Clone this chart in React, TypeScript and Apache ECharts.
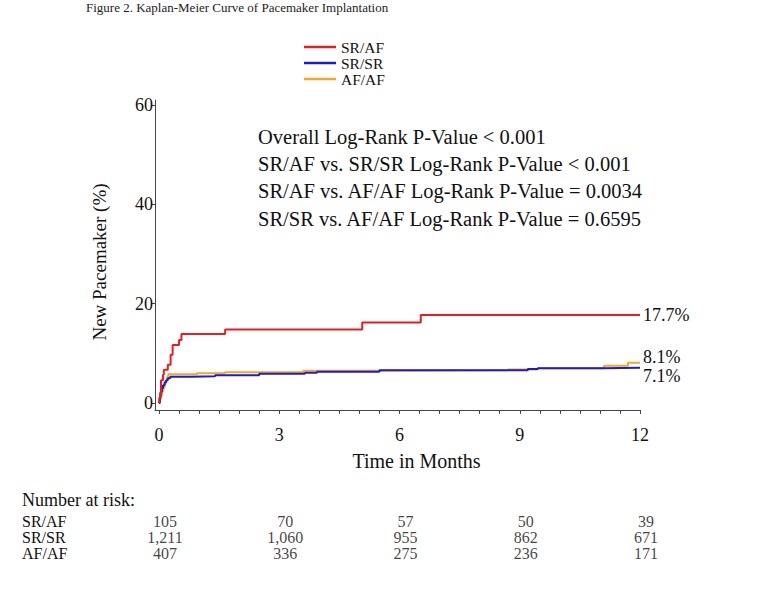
import React, { useEffect, useRef } from "react";
import * as echarts from "echarts";

const FONT = "'Liberation Serif', 'Times New Roman', serif";

const seriesNames = ["SR/AF", "SR/SR", "AF/AF"];
const seriesColors = ["#e61e24", "#1c1cc8", "#f5a623"];
const endLabels = ["17.7%", "7.1%", "8.1%"];

// Kaplan-Meier cumulative incidence (%), [month, value]
const srafCurve: [number, number][] = [
  [0, 0], [0.01, 1.0], [0.03, 2.0], [0.05, 4.6], [0.1, 5.7], [0.12, 6.7],
  [0.22, 7.7], [0.29, 9.7], [0.34, 11.7], [0.5, 12.7], [0.56, 13.9],
  [1.65, 14.8], [5.07, 16.2], [6.53, 17.7], [12, 17.7],
];
const srsrCurve: [number, number][] = [
  [0, 0], [0.02, 1.2], [0.04, 2.2], [0.07, 3.0], [0.1, 3.6], [0.14, 4.2],
  [0.18, 4.6], [0.22, 5.0], [0.28, 5.3], [0.8, 5.4], [1.4, 5.6], [2.5, 5.9],
  [3.64, 6.1], [3.94, 6.3], [5.5, 6.6], [9.2, 6.85], [9.45, 7.0], [11.1, 7.1],
  [12, 7.1],
];
const afafCurve: [number, number][] = [
  [0, 0], [0.02, 0.8], [0.05, 1.6], [0.08, 2.4], [0.11, 3.2], [0.14, 4.0],
  [0.17, 4.6], [0.2, 5.2], [0.23, 5.8], [0.95, 6.0], [1.65, 6.2], [3.6, 6.5],
  [4.76, 6.6], [8.7, 6.75], [9.45, 7.0], [11.1, 7.5], [11.7, 8.1], [12, 8.1],
];
const curves = [srafCurve, srsrCurve, afafCurve];

const xLabelValues = [0, 3, 6, 9, 12];
const xMinorTicks = [0, 0.5, 1, 1.5, 2, 2.5, 3, 3.5, 4, 4.5, 5, 5.5, 6, 6.5, 7, 7.5, 8, 8.5, 9, 9.5, 10, 10.5, 11, 11.5, 12];
const yLabelValues = [0, 20, 40, 60];

const annotations = [
  "Overall Log-Rank P-Value < 0.001",
  "SR/AF vs. SR/SR Log-Rank P-Value < 0.001",
  "SR/AF vs. AF/AF Log-Rank P-Value = 0.0034",
  "SR/SR vs. AF/AF Log-Rank P-Value = 0.6595",
];

const riskTimes = [0, 3, 6, 9, 12];
const riskSRAF = [105, 70, 57, 50, 39];
const riskSRSR = [1211, 1060, 955, 862, 671];
const riskAFAF = [407, 336, 275, 236, 171];
const riskRows = [riskSRAF, riskSRSR, riskAFAF];

export default function App() {
  const ref = useRef<HTMLDivElement>(null);
  useEffect(() => {
    document.body.style.margin = "0";
    if (!ref.current) return;
    const chart = echarts.init(ref.current, null, { renderer: "svg" });

    const riskData: any[] = [];
    riskRows.forEach((row, g) => {
      row.forEach((v, i) => {
        riskData.push([riskTimes[i], seriesNames[g], v]);
      });
    });

    const offsets = [[0, 0], [0, 8], [0, -6]];

    const option: any = {
      animation: false,
      backgroundColor: "#ffffff",
      textStyle: { fontFamily: FONT },
      legend: {
        orient: "vertical",
        left: 299,
        top: 34,
        icon: "rect",
        itemWidth: 32,
        itemHeight: 2.5,
        itemGap: 0,
        data: seriesNames,
        textStyle: { fontFamily: FONT, fontSize: 15.5, color: "#111", lineHeight: 16 },
      },
      grid: [
        { left: 155, right: 124, top: 100, bottom: 189, containLabel: false },
        { left: 155, right: 124, top: 513, height: 48, containLabel: false },
      ],
      xAxis: [
        {
          type: "value",
          gridIndex: 0,
          min: -0.1,
          max: 12,
          axisLine: { show: true, onZero: false, lineStyle: { color: "#444", width: 1 } },
          axisTick: { show: true, customValues: xMinorTicks, length: 4, lineStyle: { color: "#444" } },
          axisLabel: { customValues: xLabelValues, fontSize: 18, color: "#111", margin: 16, fontFamily: FONT },
          splitLine: { show: false },
          name: "Time in Months",
          nameLocation: "middle",
          nameGap: 41,
          nameTextStyle: { fontSize: 20, color: "#111", fontFamily: FONT, padding: [0, 0, 0, 38] },
        },
        {
          type: "value",
          gridIndex: 1,
          min: -0.1,
          max: 12,
          show: false,
        },
      ],
      yAxis: [
        {
          type: "value",
          gridIndex: 0,
          min: -1.4,
          max: 61,
          axisLine: { show: true, onZero: false, lineStyle: { color: "#444", width: 1 } },
          axisTick: { show: true, customValues: yLabelValues, length: 4, lineStyle: { color: "#444" } },
          axisLabel: { customValues: yLabelValues, fontSize: 18, color: "#111", margin: 2, fontFamily: FONT },
          splitLine: { show: false },
          name: "New Pacemaker (%)",
          nameLocation: "middle",
          nameGap: 46,
          nameTextStyle: { fontSize: 19, color: "#111", fontFamily: FONT, padding: [0, 14, 0, 0] },
        },
        {
          type: "category",
          gridIndex: 1,
          data: seriesNames,
          inverse: true,
          axisLine: { show: false },
          axisTick: { show: false },
          axisLabel: { interval: 0, align: "left", margin: 133, fontSize: 16, lineHeight: 16, color: "#111", fontFamily: FONT },
        },
      ],
      series: [
        ...curves.map((c, i) => ({
          name: seriesNames[i],
          type: "line",
          step: "end",
          xAxisIndex: 0,
          yAxisIndex: 0,
          data: c,
          showSymbol: false,
          symbol: "none",
          lineStyle: { color: seriesColors[i], width: 2 },
          itemStyle: { color: seriesColors[i] },
          z: 3 - i,
          endLabel: {
            show: true,
            formatter: () => endLabels[i],
            distance: 3,
            offset: offsets[i],
            fontSize: 18,
            color: "#111",
            fontFamily: FONT,
          },
        })),
        {
          name: "risk",
          type: "scatter",
          xAxisIndex: 1,
          yAxisIndex: 1,
          symbolSize: 0,
          data: riskData,
          label: {
            show: true,
            position: "inside",
            offset: [6, 0],
            fontSize: 16,
            lineHeight: 16,
            color: "#111",
            fontFamily: FONT,
            formatter: (p: any) => Number(p.value[2]).toLocaleString("en-US"),
          },
        },
      ],
      graphic: [
        {
          type: "text",
          left: 86,
          top: 1,
          style: { text: "Figure 2. Kaplan-Meier Curve of Pacemaker Implantation", fontSize: 13, fontFamily: FONT, fill: "#222" },
        },
        ...annotations.map((t, i) => ({
          type: "text",
          left: 258,
          top: 126 + i * 27.4,
          style: { text: t, fontSize: 20.5, fontFamily: FONT, fill: "#111" },
        })),
        {
          type: "text",
          left: 22,
          top: 491,
          style: { text: "Number at risk:", fontSize: 18, fontFamily: FONT, fill: "#111" },
        },
      ],
    };
    chart.setOption(option);
    return () => chart.dispose();
  }, []);
  return <div ref={ref} style={{ width: 764, height: 599 }} />;
}
